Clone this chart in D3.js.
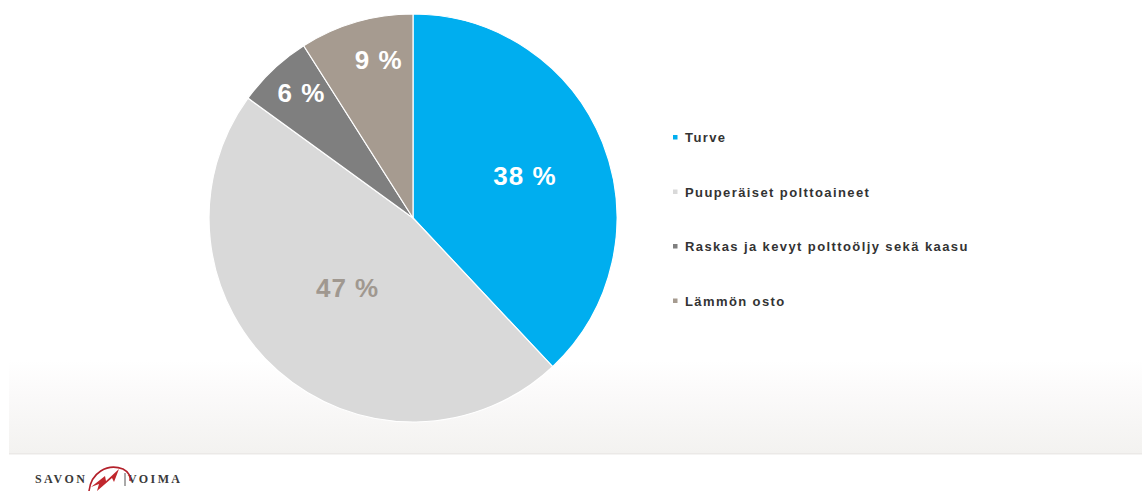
<!DOCTYPE html>
<html>
<head>
<meta charset="utf-8">
<script src="https://cdn.jsdelivr.net/npm/d3@7"></script>
<style>
  html, body { margin: 0; padding: 0; background: #ffffff; }
  svg { display: block; font-family: "Liberation Sans", Arial, sans-serif; }
</style>
</head>
<body>
<svg id="chart" width="1142" height="497"></svg>
<script>
// Lämmöntuotannon polttoaineet
const categories = ["Turve", "Puuperäiset polttoaineet", "Raskas ja kevyt polttoöljy sekä kaasu", "Lämmön osto"];
const shares = [38, 47, 6, 9];
const valueLabels = ["38 %", "47 %", "6 %", "9 %"];

const colors = ["#00aeef", "#d9d9d9", "#7f7f7f", "#a69b90"];
const labelColors = ["#ffffff", "#a09890", "#ffffff", "#ffffff"];
// label placement: radius fraction and small pixel nudge per slice
const labelRadius = [0.59, 0.47, 0.82, 0.78];
const labelNudge = [[0, 2], [-2, -2], [3, -3], [10, -6]];

const svg = d3.select("#chart");
const W = 1142, H = 497;

// soft grey footer band behind the pie
const defs = svg.append("defs");
const grad = defs.append("linearGradient").attr("id", "band")
  .attr("x1", 0).attr("y1", 0).attr("x2", 0).attr("y2", 1);
grad.append("stop").attr("offset", "0%").attr("stop-color", "#ffffff");
grad.append("stop").attr("offset", "35%").attr("stop-color", "#fbfafa");
grad.append("stop").attr("offset", "100%").attr("stop-color", "#f3f2f0");
svg.append("rect").attr("x", 9).attr("y", 360).attr("width", W - 9).attr("height", 93)
  .attr("fill", "url(#band)");
svg.append("rect").attr("x", 9).attr("y", 453).attr("width", W - 9).attr("height", 1.5)
  .attr("fill", "#ebe9e7");

// pie
const cx = 413, cy = 218, R = 204;
const pie = d3.pie().sort(null).value(d => d.value);
const data = categories.map((c, i) => ({ name: c, value: shares[i], i }));
const arcs = pie(data);
const arc = d3.arc().innerRadius(0).outerRadius(R);

const g = svg.append("g").attr("transform", `translate(${cx},${cy})`);
g.selectAll("path.slice").data(arcs).join("path")
  .attr("class", "slice")
  .attr("d", arc)
  .attr("fill", d => colors[d.data.i])
  .attr("stroke", "#ffffff")
  .attr("stroke-width", 1.2);

g.selectAll("text.val").data(arcs).join("text")
  .attr("class", "val")
  .attr("transform", d => {
    const r = R * labelRadius[d.data.i];
    const a = d3.arc().innerRadius(r).outerRadius(r);
    const [x, y] = a.centroid(d);
    const [nx, ny] = labelNudge[d.data.i];
    return `translate(${x + nx},${y + ny})`;
  })
  .attr("text-anchor", "middle")
  .attr("dy", "0.36em")
  .attr("font-size", 26)
  .attr("letter-spacing", 1)
  .attr("font-weight", "bold")
  .attr("fill", d => labelColors[d.data.i])
  .text(d => valueLabels[d.data.i]);

// legend
const legend = svg.append("g").attr("transform", "translate(673,142)");
const item = legend.selectAll("g").data(categories).join("g")
  .attr("transform", (d, i) => `translate(0,${i * 54.5})`);
item.append("rect").attr("x", 0).attr("y", -7).attr("width", 4.5).attr("height", 4.5)
  .attr("fill", (d, i) => colors[i]);
item.append("text").attr("x", 12).attr("y", 0)
  .attr("font-size", 13).attr("font-weight", "bold").attr("fill", "#333333")
  .attr("letter-spacing", 1.4)
  .text(d => d);

// company logo
const logo = svg.append("g").attr("transform", "translate(35,483)");
logo.append("text").attr("x", 0).attr("y", 0)
  .attr("font-family", "'Liberation Serif', serif").attr("font-weight", "bold")
  .attr("font-size", 12).attr("letter-spacing", 2.4).attr("fill", "#3a3a3a")
  .text("SAVON");
logo.append("text").attr("x", 93).attr("y", 0)
  .attr("font-family", "'Liberation Serif', serif").attr("font-weight", "bold")
  .attr("font-size", 12).attr("letter-spacing", 2.4).attr("fill", "#3a3a3a")
  .text("VOIMA");
logo.append("path")
  .attr("d", "M54,8 C56,-10 72,-20 88,-14 C94,-11 96,-6 95,-2")
  .attr("fill", "none").attr("stroke", "#b3202a").attr("stroke-width", 1.6);
logo.append("path")
  .attr("d", "M56,4 L70,-7 L71,-2 L84,-14 L79,-1 L77,-5 L62,8 L64,1 Z")
  .attr("fill", "#c0272d");
logo.append("line").attr("x1", 90).attr("y1", -10).attr("x2", 90).attr("y2", 3)
  .attr("stroke", "#555").attr("stroke-width", 1);
</script>
</body>
</html>
